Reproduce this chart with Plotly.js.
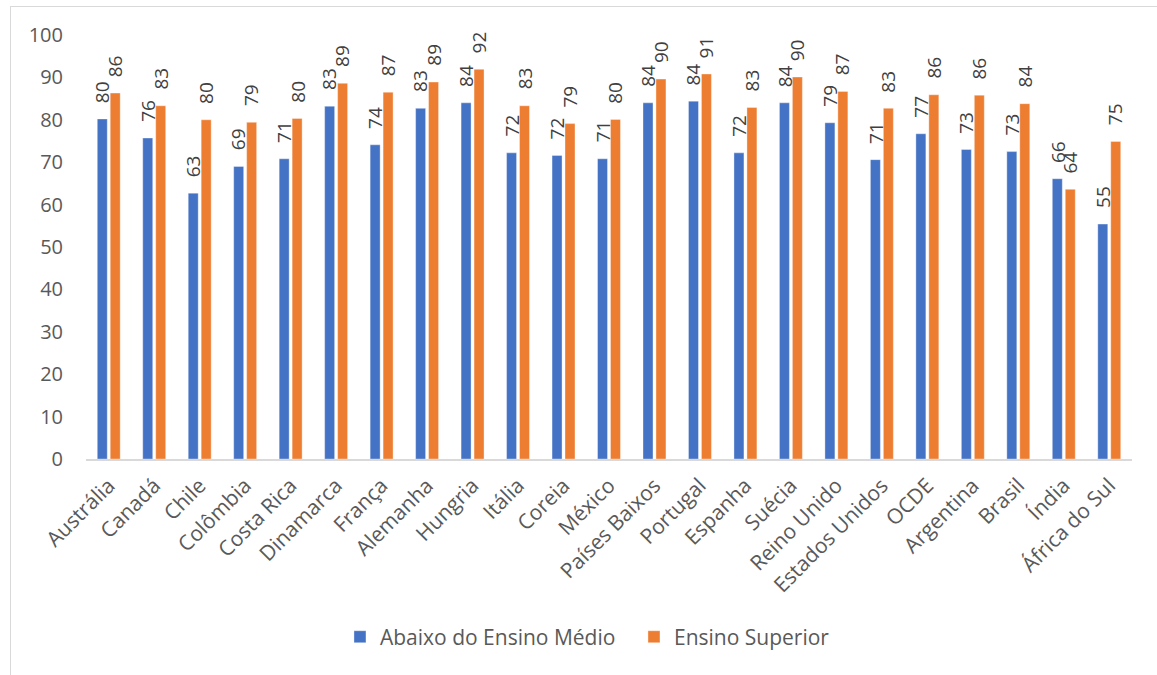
<!DOCTYPE html>
<html>
<head>
<meta charset="utf-8">
<script src="https://cdn.plot.ly/plotly-3.0.1.min.js"></script>
<style>
  html, body { margin: 0; padding: 0; background: #fff; }
  #wrap { position: relative; width: 1157px; height: 675px; }
  #chart { width: 1157px; height: 675px; }
  #frame { position: absolute; left: 10px; top: 6px; right: -2px; bottom: -2px;
           border-left: 1px solid #d9d9d9; border-top: 1px solid #d9d9d9; pointer-events: none; }
</style>
</head>
<body>
<div id="wrap">
  <div id="chart"></div>
  <div id="frame"></div>
</div>
<script>
const categories = ["Austrália", "Canadá", "Chile", "Colômbia", "Costa Rica", "Dinamarca", "França",
  "Alemanha", "Hungria", "Itália", "Coreia", "México", "Países Baixos", "Portugal", "Espanha",
  "Suécia", "Reino Unido", "Estados Unidos", "OCDE", "Argentina", "Brasil", "Índia", "África do Sul"];

const abaixoMedio = [80.2, 75.7, 62.7, 69.0, 70.8, 83.2, 74.1, 82.7, 84.0, 72.2, 71.6, 70.8, 84.0,
  84.4, 72.2, 84.0, 79.3, 70.6, 76.7, 73.0, 72.5, 66.1, 55.4];

const ensinoSuperior = [86.3, 83.3, 80.0, 79.4, 80.3, 88.6, 86.5, 88.9, 91.9, 83.3, 79.1, 80.1, 89.6,
  90.8, 82.9, 90.1, 86.7, 82.7, 85.9, 85.8, 83.8, 63.6, 74.9];

const seriesNames = ["Abaixo do Ensino Médio", "Ensino Superior"];
const yTicks = [0, 10, 20, 30, 40, 50, 60, 70, 80, 90, 100];

const FONT = "'Open Sans', 'Noto Sans', sans-serif";
const labelFont = { family: FONT, size: 19, color: "#404040" };
const BARGAP = 0.43;
const CAT_PX = 1046 / categories.length;
const HALF_SLOT = (1 - BARGAP) * CAT_PX / 4;

function barTrace(name, values, color) {
  return {
    type: "bar",
    name: name,
    x: categories,
    y: values,
    marker: { color: color, line: { width: 0.6, color: "rgba(255,255,255,0.6)" } },
    cliponaxis: false,
    hoverinfo: "x+y"
  };
}

const data = [
  barTrace(seriesNames[0], abaixoMedio, "#4472C4"),
  barTrace(seriesNames[1], ensinoSuperior, "#ED7D31")
];

const annotations = [];
[abaixoMedio, ensinoSuperior].forEach((vals, s) => {
  vals.forEach((v, i) => {
    annotations.push({
      x: categories[i], y: v, xref: "x", yref: "y",
      text: String(Math.round(v)),
      textangle: -90,
      showarrow: false,
      xanchor: "center", yanchor: "bottom",
      xshift: s === 0 ? -HALF_SLOT : HALF_SLOT,
      yshift: 15,
      borderpad: 0,
      font: labelFont
    });
  });
});

const layout = {
  width: 1157,
  height: 675,
  margin: { l: 86, r: 25, t: 35, b: 216 },
  paper_bgcolor: "rgba(0,0,0,0)",
  plot_bgcolor: "rgba(0,0,0,0)",
  font: { family: FONT, color: "#595959", size: 18 },
  barmode: "group",
  bargap: BARGAP,
  bargroupgap: 0.23,
  showlegend: true,
  annotations: annotations,
  legend: {
    orientation: "h",
    x: 0.2428, xanchor: "left",
    y: -0.42, yanchor: "middle",
    font: { family: FONT, size: 21, color: "#595959" },
    itemwidth: 30,
    entrywidth: 249,
    entrywidthmode: "pixels",
    traceorder: "normal"
  },
  xaxis: {
    type: "category",
    tickangle: -45,
    tickfont: { family: FONT, size: 21, color: "#595959" },
    ticklabelstandoff: 4,
    showline: true,
    linecolor: "#d9d9d9",
    linewidth: 2,
    ticks: "",
    showgrid: false,
    zeroline: false,
    fixedrange: true
  },
  yaxis: {
    range: [0, 100],
    tickvals: yTicks,
    ticktext: yTicks.map(String),
    tickfont: { family: FONT, size: 20, color: "#595959" },
    ticklabelstandoff: 22,
    showgrid: false,
    zeroline: false,
    showline: false,
    ticks: "",
    ticklen: 0,
    fixedrange: true
  }
};

Plotly.newPlot("chart", data, layout, { displayModeBar: false, staticPlot: true });
</script>
</body>
</html>
